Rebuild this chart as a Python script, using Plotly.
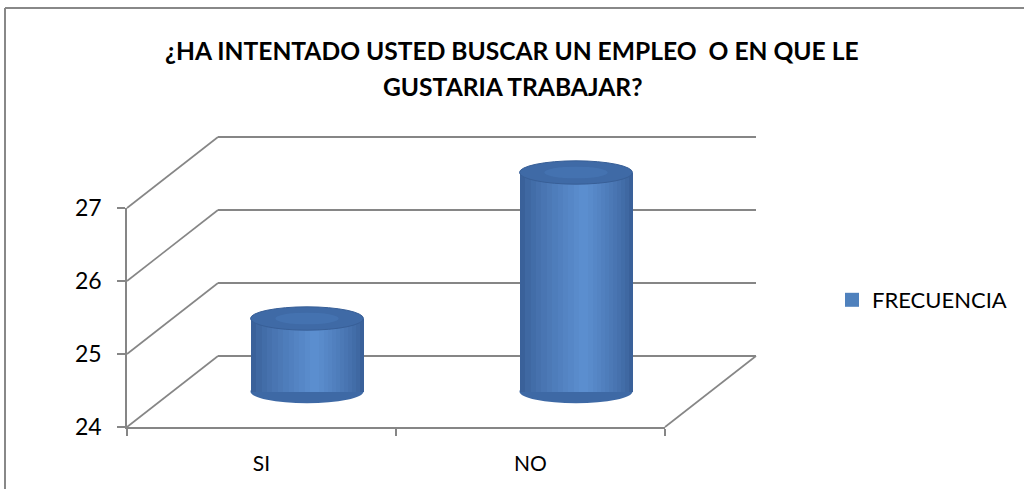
import plotly.graph_objects as go

# ---------------- data ----------------
categories = ["SI", "NO"]
frecuencia = [25, 27]
y_ticks = [24, 25, 26, 27]
series_name = "FRECUENCIA"
title_lines = ["¿HA INTENTADO USTED BUSCAR UN EMPLEO  O EN QUE LE", "GUSTARIA TRABAJAR?"]

# ---------------- geometry (pixels) ----------------
W, H = 1024, 489
Y_MIN, Y_MAX = 24, 27
FRONT_X = (127, 665)
FRONT_Y = (208, 427)          # y pixel of Y_MAX, Y_MIN
DEPTH_DX, DEPTH_DY = 91, -71  # front -> back wall offset
BAR_FRAC = 0.5                # bars sit half way in depth
PX_PER_UNIT = (FRONT_Y[1] - FRONT_Y[0]) / (Y_MAX - Y_MIN)

def px(x):
    return x / W

def py(y):
    return 1 - y / H

def xdom(x0, x1):
    return [px(x0), px(x1)]

def ydom(ytop, ybot):
    return [py(ybot), py(ytop)]

def front_y(v):
    return FRONT_Y[1] - (v - Y_MIN) * PX_PER_UNIT

def mix(c1, c2, t):
    a = [int(c1[i:i + 2], 16) for i in (1, 3, 5)]
    b = [int(c2[i:i + 2], 16) for i in (1, 3, 5)]
    return "#" + "".join(f"{round(a[k] + (b[k] - a[k]) * t):02X}" for k in range(3))

GRID = "#868686"
FONT = "Lato"
EDGE_COL = "#3A619A"
MID_COL = "#5B8ECF"

fig = go.Figure()

# --- bars (cylinders) on x3/y3, placed at mid depth ---
bdx, bdy = DEPTH_DX * BAR_FRAC, DEPTH_DY * BAR_FRAC
ext = 0.6  # extra units above/below so ellipses aren't clipped
bar_x_dom = xdom(FRONT_X[0] + bdx, FRONT_X[1] + bdx)
bar_y_dom = ydom(FRONT_Y[0] + bdy - ext * PX_PER_UNIT, FRONT_Y[1] + bdy + ext * PX_PER_UNIT)

BAR_W = 0.42
N_LAYERS = 12
for j in range(N_LAYERS):
    f = 1 - j / N_LAYERS            # width fraction of this shading layer
    col = mix(EDGE_COL, MID_COL, (j / (N_LAYERS - 1)) ** 0.8)
    fig.add_trace(go.Bar(
        x=categories, y=[v - Y_MIN for v in frecuencia], base=Y_MIN,
        width=BAR_W * f, offset=-BAR_W * f / 2 + BAR_W * 0.07 * (1 - f),
        marker=dict(color=col, line=dict(width=0)),
        xaxis="x3", yaxis="y3", showlegend=False, hoverinfo="skip",
    ))
# legend entry
fig.add_trace(go.Scatter(x=[None], y=[None], name=series_name, mode="markers",
                         marker=dict(color="#4F81BD", symbol="square", size=14),
                         xaxis="x3", yaxis="y3", showlegend=True))

EH = 0.16  # ellipse half-height (units)
shapes = []
for i, v in enumerate(frecuencia):
    # bottom ellipse
    shapes.append(dict(type="circle", xref="x3", yref="y3", layer="below",
                       x0=i - BAR_W / 2, x1=i + BAR_W / 2, y0=Y_MIN - EH, y1=Y_MIN + EH,
                       fillcolor="#3E69A5", line=dict(width=0)))
    # top ellipse
    shapes.append(dict(type="circle", xref="x3", yref="y3", layer="above",
                       x0=i - BAR_W / 2, x1=i + BAR_W / 2, y0=v - EH, y1=v + EH,
                       fillcolor="#3F6AA6", line=dict(color="#385F97", width=1)))
    shapes.append(dict(type="circle", xref="x3", yref="y3", layer="above",
                       x0=i - BAR_W * 0.28, x1=i + BAR_W * 0.28, y0=v - EH * 0.5, y1=v + EH * 0.5,
                       fillcolor="#4472B0", line=dict(width=0)))

# --- 3D frame diagonals (paper) ---
for v in y_ticks:
    y0 = front_y(v)
    shapes.append(dict(type="line", xref="paper", yref="paper",
                       x0=px(FRONT_X[0]), y0=py(y0),
                       x1=px(FRONT_X[0] + DEPTH_DX), y1=py(y0 + DEPTH_DY),
                       line=dict(color=GRID, width=1.6)))
shapes.append(dict(type="line", xref="paper", yref="paper",
                   x0=px(FRONT_X[1]), y0=py(front_y(Y_MIN)),
                   x1=px(FRONT_X[1] + DEPTH_DX), y1=py(front_y(Y_MIN) + DEPTH_DY),
                   line=dict(color=GRID, width=1.6)))
# chart border (left + top)
shapes.append(dict(type="line", xref="paper", yref="paper", x0=px(5), x1=px(5),
                   y0=0, y1=py(8), line=dict(color="#888888", width=2)))
shapes.append(dict(type="line", xref="paper", yref="paper", x0=px(5), x1=1,
                   y0=py(8), y1=py(8), line=dict(color="#888888", width=2)))

annotations = []
for k, (t, yy) in enumerate(zip(title_lines, [50, 87])):
    annotations.append(dict(text=f"<b>{t}</b>", xref="paper", yref="paper",
                            x=px(512), y=py(yy), xanchor="center", yanchor="middle",
                            showarrow=False, font=dict(family=FONT, size=24.6, color="#000000")))

EPS = 0.03  # tiny range padding so edge gridlines are drawn
fig.update_layout(
    width=W, height=H,
    margin=dict(l=0, r=0, t=0, b=0, pad=0),
    paper_bgcolor="white", plot_bgcolor="rgba(0,0,0,0)",
    barmode="overlay", bargap=0,
    showlegend=True,
    legend=dict(x=px(832), y=py(300), xanchor="left", yanchor="middle",
                font=dict(family=FONT, size=22, color="#000000"),
                bgcolor="rgba(0,0,0,0)", itemsizing="trace"),
    shapes=shapes, annotations=annotations,
    # back wall with gridlines
    xaxis=dict(domain=xdom(FRONT_X[0] + DEPTH_DX, FRONT_X[1] + DEPTH_DX), range=[0, 1],
               showgrid=False, showticklabels=False, zeroline=False, ticks="",
               anchor="y", fixedrange=True, automargin=False),
    yaxis=dict(domain=ydom(FRONT_Y[0] + DEPTH_DY - EPS * PX_PER_UNIT,
                           FRONT_Y[1] + DEPTH_DY + EPS * PX_PER_UNIT),
               range=[Y_MIN - EPS, Y_MAX + EPS],
               tickvals=y_ticks, showgrid=True, gridcolor=GRID, gridwidth=1.6,
               showticklabels=False, zeroline=False, ticks="", anchor="x",
               fixedrange=True, automargin=False),
    # front axes
    xaxis2=dict(domain=xdom(*FRONT_X), type="category", categoryorder="array",
                categoryarray=categories, range=[-0.5, 1.5], anchor="y2",
                showline=True, linecolor=GRID, linewidth=1.6, showgrid=False,
                ticks="outside", tickson="boundaries", ticklen=7, tickcolor=GRID, tickwidth=1.6,
                ticklabelstandoff=17, automargin=False,
                tickfont=dict(family=FONT, size=21, color="#000000"), zeroline=False),
    yaxis2=dict(domain=ydom(*FRONT_Y), range=[Y_MIN, Y_MAX], tickvals=y_ticks,
                anchor="x2", showline=True, linecolor=GRID, linewidth=1.6, showgrid=False,
                ticks="outside", ticklen=8, tickcolor=GRID, tickwidth=1.6,
                ticklabelstandoff=11, automargin=False,
                tickfont=dict(family=FONT, size=23, color="#000000"), zeroline=False),
    # bars subplot
    xaxis3=dict(domain=bar_x_dom, type="category", categoryorder="array",
                categoryarray=categories, range=[-0.5, 1.5], anchor="y3",
                visible=False, automargin=False),
    yaxis3=dict(domain=bar_y_dom, range=[Y_MIN - ext, Y_MAX + ext], anchor="x3",
                visible=False, automargin=False),
)

# dummy traces so that the frame subplots exist
fig.add_trace(go.Scatter(x=[None], y=[None], xaxis="x", yaxis="y", showlegend=False))
fig.add_trace(go.Scatter(x=["SI"], y=[None], xaxis="x2", yaxis="y2", showlegend=False))

fig.write_html("out.html", config={"displayModeBar": False},
               post_script="document.body.style.margin='0';")
